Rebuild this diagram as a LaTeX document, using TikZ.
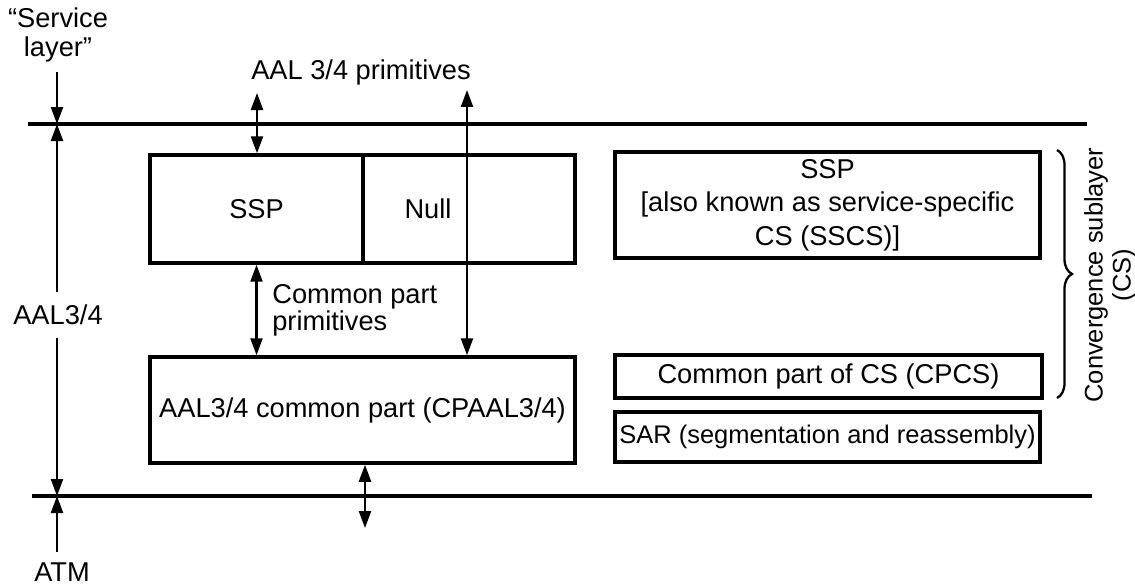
\documentclass[tikz,border=0pt]{standalone}
\usepackage{fontspec}
\setmainfont{Liberation Sans}
\usetikzlibrary{arrows.meta,decorations.pathreplacing}
\begin{document}
\begin{tikzpicture}[x=0.02cm,y=-0.02cm,
  font=\fontsize{15.5}{18.5}\selectfont,
  box/.style={draw,line width=2pt,inner sep=0pt,align=center},
  lyr/.style={line width=2pt},
  tip/.tip={Triangle[length=0.34cm,width=0.24cm]},
  arr/.style={line width=1.3pt,-tip},
  dbl/.style={line width=1.3pt,tip-tip},
  lbl/.style={inner sep=0pt,align=center}]
\useasboundingbox (0,0) rectangle (1135,585);

% layer boundary lines
\coordinate (tl) at (28,124);  \coordinate (tr) at (1087,124);
\coordinate (bl) at (32,496);  \coordinate (br) at (1092,496);
\draw[lyr] (tl) -- (tr);
\draw[lyr] (bl) -- (br);

% left-hand layer labels
\node[lbl,font=\fontsize{15.5}{16}\selectfont] (srv) at (58,35) {“Service\\layer”};
\node[lbl,inner ysep=0.25cm] (aal) at (58,315) {AAL3/4};
\node[lbl,inner ysep=0.2cm] (atm) at (62,572) {ATM};
\coordinate (lt) at (57,124);
\coordinate (lb) at (57,496);
\coordinate (srvfoot) at (57,72);
\draw[arr] (srvfoot) -- (lt);
\draw[arr] (aal.north -| lt) -- (lt);
\draw[arr] (aal.south -| lb) -- (lb);
\draw[arr] (atm.north -| lb) -- (lb);

% left boxes
\node[box,minimum width=4.26cm,minimum height=2.16cm] (ssp) at (256.5,209) {SSP};
\node[box,minimum width=4.24cm,minimum height=2.16cm] (nul) at (469,209) {};
\node[lbl] (nulltxt) at (428,209) {Null};
\node[box,minimum width=8.5cm,minimum height=2.12cm] (cp) at (362.5,410) {AAL3/4 common part (CPAAL3/4)};

% primitives
\node[lbl] (prim) at (361,72) {AAL 3/4 primitives};
\coordinate (p1) at (257,93);
\coordinate (p2) at (467,90);
\draw[dbl] (p1) -- (p1 |- ssp.north);
\draw[dbl] (p2) -- (p2 |- cp.north);
\draw[dbl] (ssp.south) -- (ssp.south |- cp.north);
\node[lbl,align=left,anchor=west,font=\fontsize{15.5}{15.5}\selectfont] (cpp) at (272,310) {Common part\\primitives};
\coordinate (down) at (365,528);
\draw[dbl] (cp.south -| down) -- (down);

% right boxes
\node[box,minimum width=8.5cm,minimum height=2.12cm,font=\fontsize{15.5}{19}\selectfont] (sspr) at (827.5,205)
  {SSP\\{[}also known as service-specific\\CS (SSCS)]};
\node[box,minimum width=8.54cm,minimum height=0.86cm] (cpcs) at (828.5,376.5) {Common part of CS (CPCS)};
\node[box,minimum width=8.5cm,minimum height=1.0cm,font=\fontsize{14.5}{18}\selectfont] (sar) at (827.5,437) {SAR (segmentation and reassembly)};

% brace
\coordinate (bt) at (1057,150);
\coordinate (bb) at (1057,398);
\draw[line width=1.3pt,decorate,decoration={brace,amplitude=0.3cm}] (bt) -- (bb);
\node[lbl,rotate=90,font=\fontsize{14.5}{16}\selectfont] (conv) at (1110,275) {Convergence sublayer\\(CS)};
\end{tikzpicture}
\end{document}
